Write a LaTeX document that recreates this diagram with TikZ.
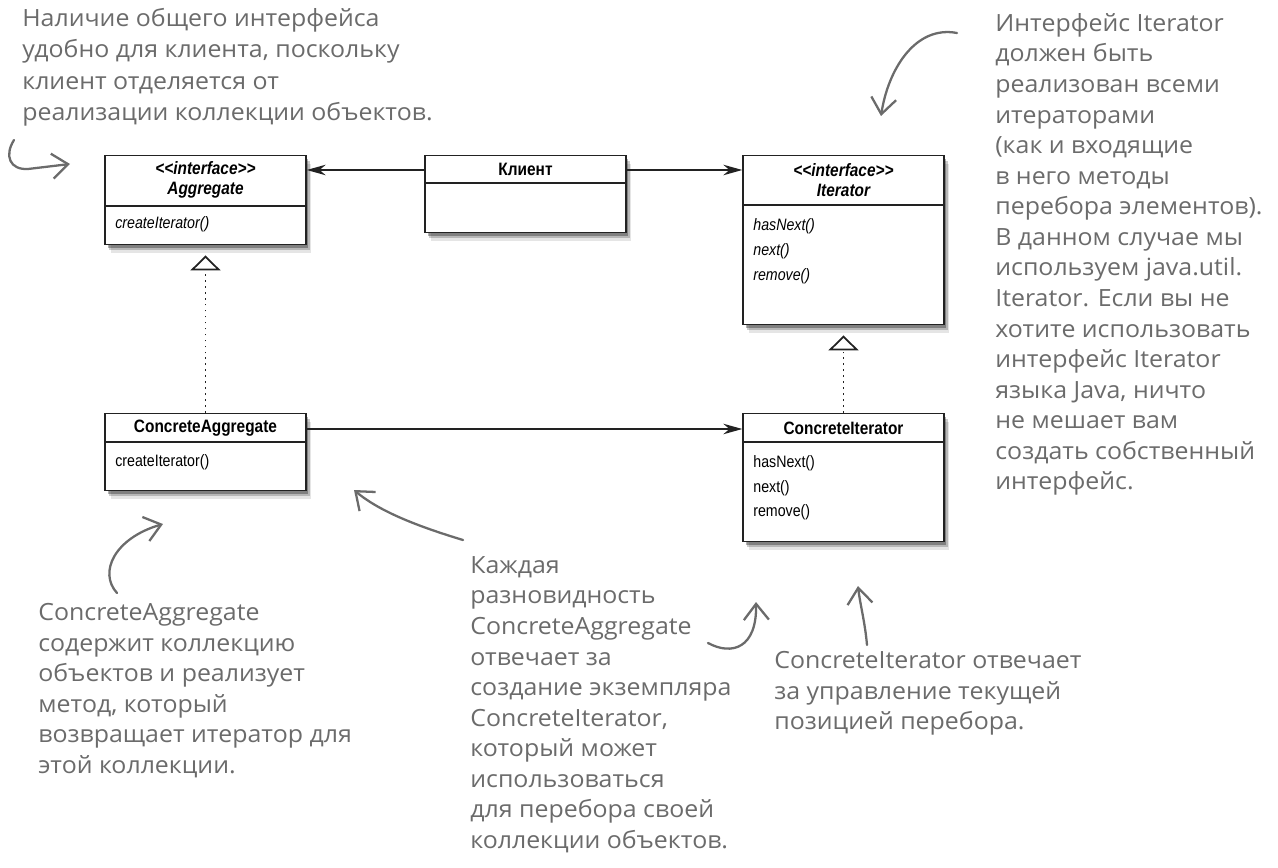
\documentclass[tikz,border=0pt]{standalone}
\usepackage{fontspec}
\usetikzlibrary{arrows.meta,shadows}
\newfontfamily\umlFont[FakeStretch=0.86]{Liberation Sans}
\newfontfamily\noteFont[FakeStretch=1.05]{Open Sans}
\definecolor{noteColour}{HTML}{6B6B6B}
\definecolor{lineColour}{HTML}{222222}

\begin{document}
\begin{tikzpicture}[x=0.02cm, y=-0.02cm,
    classBox/.style={draw=lineColour, line width=0.8pt, fill=white, anchor=north,
        minimum width=4.02cm, inner sep=0pt,
        drop shadow={shadow xshift=0.05cm, shadow yshift=-0.06cm, opacity=0.3, fill=black},
        drop shadow={shadow xshift=0.08cm, shadow yshift=-0.11cm, opacity=0.2, fill=black},
        drop shadow={shadow xshift=0.11cm, shadow yshift=-0.16cm, opacity=0.1, fill=black}},
    headText/.style={font=\umlFont\bfseries\fontsize{10.2}{10.2}\selectfont, align=center, inner sep=0pt},
    methodText/.style={font=\umlFont\fontsize{9.4}{9.4}\selectfont, anchor=west, inner sep=0pt},
    noteText/.style={font=\noteFont\fontsize{13.5}{17.4}\selectfont, text=noteColour,
        align=left, anchor=north west, inner sep=0pt},
    noteArrow/.style={draw=noteColour, line width=1.3pt, line cap=round,
        -{Straight Barb[length=0.32cm, width=0.5cm, line width=1.3pt]}},
    assocArrow/.style={draw=lineColour, line width=1pt, -{Stealth[length=0.38cm, width=0.21cm]}},
    realLine/.style={draw=lineColour, line width=1pt, dash pattern=on 1pt off 2.4pt, shorten >=0.2cm,
        -{Triangle[length=0.3cm, width=0.6cm, fill=white, line width=1pt]}}]

    \useasboundingbox (0,0) rectangle (1278,868);

    % Draw class boxes
    \node[classBox, minimum height=1.78cm] (agg) at (205.5,155) {};
    \node[classBox, minimum height=1.54cm] (client) at (525.5,155) {};
    \node[classBox, minimum height=3.38cm] (iter) at (843.5,155) {};
    \node[classBox, minimum height=1.54cm] (cAgg) at (205.5,413) {};
    \node[classBox, minimum height=2.56cm] (cIter) at (843.5,413) {};

    % Dividers under the class names
    \foreach \cls/\gap in {agg/1.02, client/0.56, iter/1.0, cAgg/0.58, cIter/0.58}
        \draw[lineColour, line width=0.6pt] ([yshift=-\gap cm]\cls.north west) -- ([yshift=-\gap cm]\cls.north east);

    % Class names
    \node[headText] (aggName) at (205.5,180) {\itshape\textless\textless interface\textgreater\textgreater\\[1.6pt]\itshape Aggregate};
    \node[headText] (clientName) at (525.5,169) {Клиент};
    \node[headText] (iterName) at (843.5,180) {\itshape\textless\textless interface\textgreater\textgreater\\[1.6pt]\itshape Iterator};
    \node[headText] (cAggName) at (205.5,428) {ConcreteAggregate};
    \node[headText] (cIterName) at (843.5,428) {ConcreteIterator};

    % Methods
    \node[methodText] (aggM) at (115,224) {\itshape createIterator()};
    \node[methodText] (iterM1) at (753,226) {\itshape hasNext()};
    \node[methodText] (iterM2) at (753,251) {\itshape next()};
    \node[methodText] (iterM3) at (753,276) {\itshape remove()};
    \node[methodText] (cAggM) at (115,462) {createIterator()};
    \node[methodText] (cIterM1) at (753,463) {hasNext()};
    \node[methodText] (cIterM2) at (753,488) {next()};
    \node[methodText] (cIterM3) at (753,512) {remove()};

    % Associations
    \draw[assocArrow] ([yshift=-0.3cm]client.north west) -- ([yshift=-0.3cm]agg.north east);
    \draw[assocArrow] ([yshift=-0.3cm]client.north east) -- ([yshift=-0.3cm]iter.north west);
    \draw[assocArrow] ([yshift=-0.32cm]cAgg.north east) -- ([yshift=-0.32cm]cIter.north west);

    % Realizations
    \draw[realLine] (cAgg.north) -- (agg.south);
    \draw[realLine] (cIter.north) -- (iter.south);

    % Notes
    \node[noteText, font=\noteFont\fontsize{13.5}{17.8}\selectfont] (noteClient) at (22,8)
        {Наличие общего интерфейса\\удобно для клиента, поскольку\\клиент отделяется от\\реализации коллекции объектов.};
    \node[noteText] (noteIter) at (995,13)
        {Интерфейс Iterator\\должен быть\\реализован всеми\\итераторами\\(как и входящие\\в него методы\\перебора элементов).\\В данном случае мы\\используем java.util.\\Iterator. Если вы не\\хотите использовать\\интерфейс Iterator\\языка Java, ничто\\не мешает вам\\создать собственный\\интерфейс.};
    \node[noteText] (noteCAgg) at (38,603)
        {ConcreteAggregate\\содержит коллекцию\\объектов и реализует\\метод, который\\возвращает итератор для\\этой коллекции.};
    \node[noteText] (noteKinds) at (470,556)
        {Каждая\\разновидность\\ConcreteAggregate\\отвечает за\\создание экземпляра\\ConcreteIterator,\\который может\\использоваться\\для перебора своей\\коллекции объектов.};
    \node[noteText] (noteCIter) at (774,651)
        {ConcreteIterator отвечает\\за управление текущей\\позицией перебора.};

    % Note arrows
    \coordinate (clientFrom) at (14,140);
    \coordinate (clientTo) at (70,164);
    \draw[noteArrow] (clientFrom) .. controls (4,156) and (10,170) .. (28,169) -- (clientTo);

    \coordinate (iterFrom) at (957,33);
    \coordinate (iterTo) at (881,116);
    \draw[noteArrow] (iterFrom) .. controls (915,25) and (888,70) .. (iterTo);

    \coordinate (cAggFrom) at (117,593);
    \coordinate (cAggTo) at (163,524);
    \draw[noteArrow] (cAggFrom) .. controls (98,572) and (115,538) .. (cAggTo);

    \coordinate (kindsFrom) at (463,540);
    \coordinate (kindsTo) at (354,490);
    \draw[noteArrow] (kindsFrom) .. controls (420,527) and (380,512) .. (kindsTo);

    \coordinate (kindsFrom2) at (708,643);
    \coordinate (kindsTo2) at (756,602);
    \draw[noteArrow] (kindsFrom2) .. controls (732,656) and (757,648) .. (kindsTo2);

    \coordinate (cIterFrom) at (867,645);
    \coordinate (cIterTo) at (858,586);
    \draw[noteArrow] (cIterFrom) .. controls (865,622) and (860,604) .. (cIterTo);

\end{tikzpicture}
\end{document}
